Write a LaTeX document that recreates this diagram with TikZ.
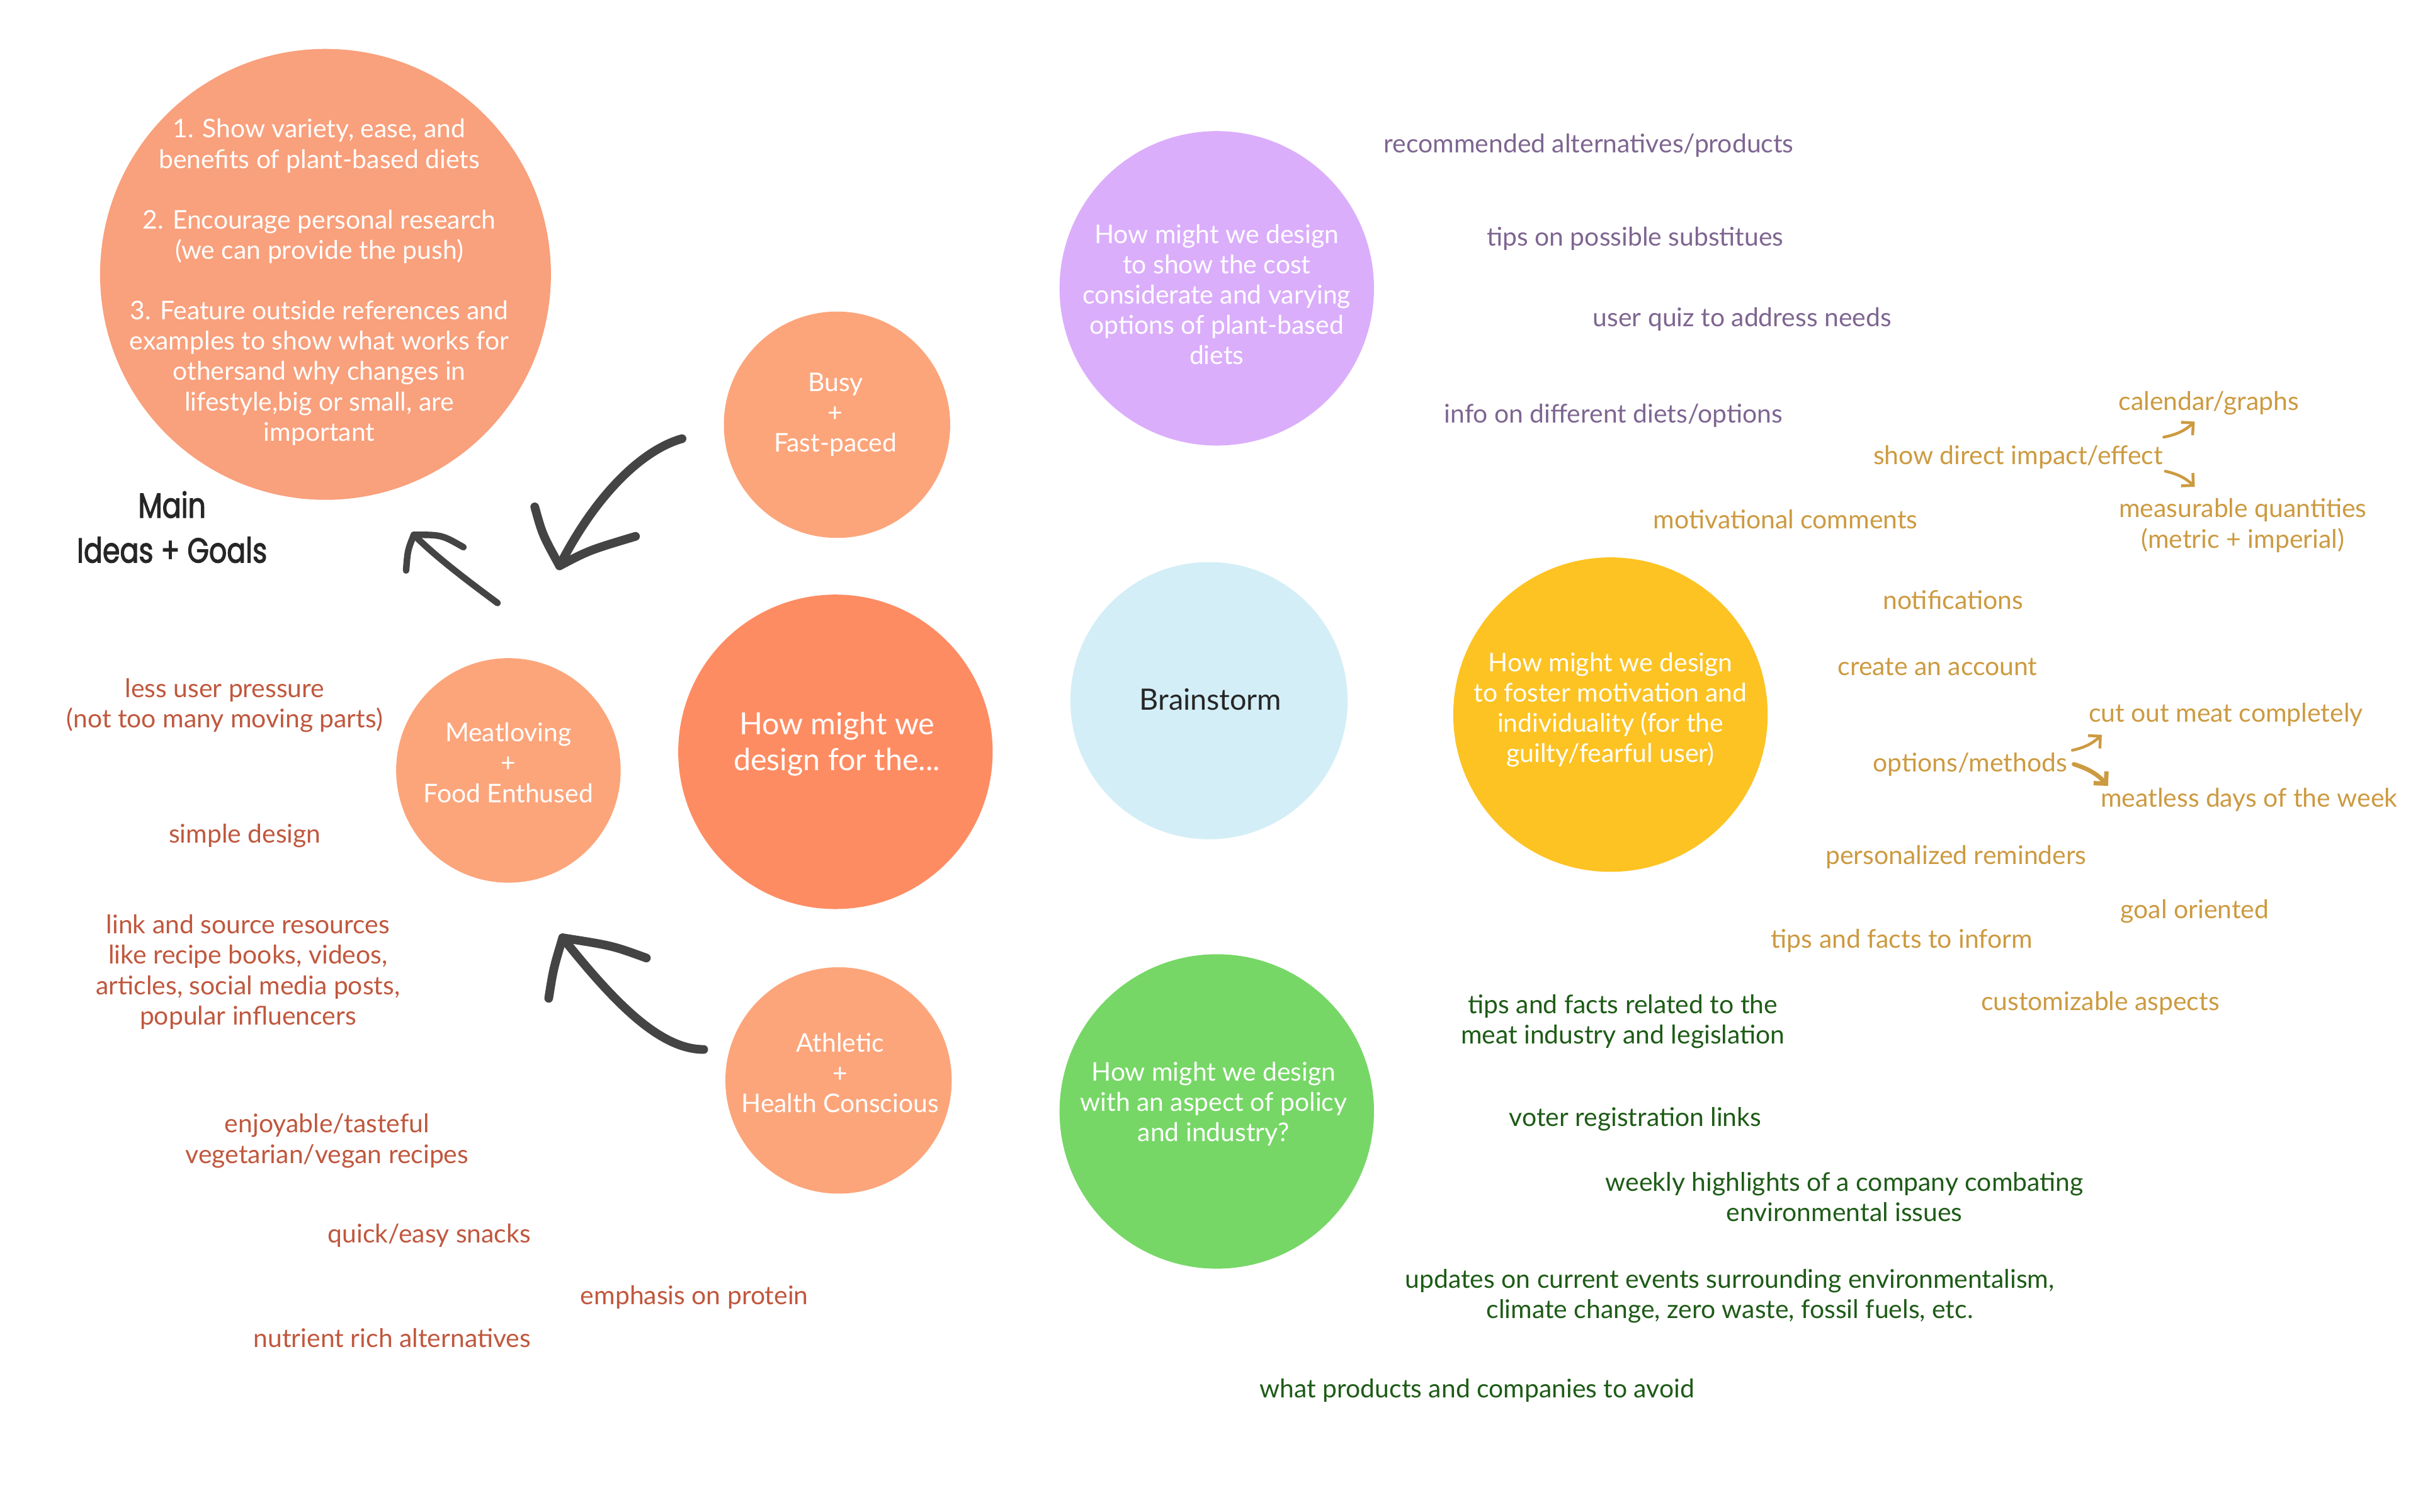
\documentclass[tikz,border=0pt]{standalone}
\usepackage{fontspec}
\setmainfont{Lato}
\newfontfamily\handfont[FakeStretch=0.8,FakeBold=2]{Poppins}
\usetikzlibrary{arrows.meta}
\definecolor{goalsfill}{HTML}{F9A07C}
\definecolor{personfill}{HTML}{FCA57B}
\definecolor{hmwfill}{HTML}{FE8C63}
\definecolor{costfill}{HTML}{DBAEFB}
\definecolor{stormfill}{HTML}{D3EEF6}
\definecolor{fosterfill}{HTML}{FDC323}
\definecolor{policyfill}{HTML}{76D766}
\definecolor{forred}{HTML}{C0573D}
\definecolor{costpurple}{HTML}{7E6591}
\definecolor{fostergold}{HTML}{CC9A40}
\definecolor{policygreen}{HTML}{1D5B16}
\definecolor{scribblegray}{HTML}{444444}
\begin{document}
\begin{tikzpicture}[x=0.025cm, y=-0.025cm,
  bubble/.style={circle, inner sep=0pt},
  idea/.style={align=center, inner sep=0pt, font=\fontsize{11.8}{13.9}\selectfont},
  inbubble/.style={idea, text=white},
  scribble/.style={scribblegray, line width=4pt, line cap=round, line join=round},
  nudge/.style={fostergold, line width=1.3pt, line cap=round, -{Straight Barb[length=4pt,width=8pt]}}]
  \useasboundingbox (0,0) rectangle (1560,975);

  \node[bubble, fill=goalsfill, minimum size=7.27cm] (goals) at (210,177) {};
  \node[inbubble] (goalstxt) at (206,182) {1. Show variety, ease, and\\benefits of plant-based diets\\[13.9pt]2. Encourage personal research\\(we can provide the push)\\[13.9pt]3. Feature outside references and\\examples to show what works for\\othersand why changes in\\lifestyle,big or small, are\\important};
  \node[align=center, inner sep=0pt, font=\handfont\fontsize{16}{20.6}\selectfont, text=black!85] (mainlbl) at (111,340) {Main\\Ideas + Goals};

  \node[bubble, fill=personfill, minimum size=3.65cm] (busy) at (540,274) {};
  \node[inbubble] (busytxt) at (539,267.5) {Busy\\+\\Fast-paced};
  \node[bubble, fill=personfill, minimum size=3.62cm] (meat) at (328,497) {};
  \node[inbubble] (meattxt) at (328,492) {Meatloving\\+\\Food Enthused};
  \node[bubble, fill=hmwfill, minimum size=5.07cm] (hmw) at (539,485) {};
  \node[inbubble, font=\fontsize{14}{16.3}\selectfont] (hmwtxt) at (540,480) {How might we\\design for the...};
  \node[bubble, fill=personfill, minimum size=3.65cm] (athl) at (541,697) {};
  \node[inbubble] (athltxt) at (542,692) {Athletic\\+\\Health Conscious};

  \node[bubble, fill=costfill, minimum size=5.07cm] (cost) at (785,186) {};
  \node[inbubble] (costtxt) at (785,190) {How might we design\\to show the cost\\considerate and varying\\options of plant-based\\diets};
  \node[bubble, fill=stormfill, minimum size=4.47cm] (storm) at (780,452) {};
  \node[idea, font=\fontsize{13.5}{16}\selectfont, text=black!85] (stormtxt) at (781,451) {Brainstorm};
  \node[bubble, fill=fosterfill, minimum size=5.07cm] (foster) at (1039,461) {};
  \node[inbubble] (fostertxt) at (1039,458) {How might we design\\to foster motivation and\\individuality (for the\\guilty/fearful user)};
  \node[bubble, fill=policyfill, minimum size=5.07cm] (policy) at (785,717) {};
  \node[inbubble] (policytxt) at (783,712) {How might we design\\with an aspect of policy\\and industry?};

  \node[idea, text=forred] (lesspress) at (145,455) {less user pressure\\(not too many moving parts)};
  \node[idea, text=forred] (simple) at (158,539) {simple design};
  \node[idea, text=forred] (linksrc) at (160,627) {link and source resources\\like recipe books, videos,\\articles, social media posts,\\popular influencers};
  \node[idea, text=forred] (enjoy) at (211,736) {enjoyable/tasteful\\vegetarian/vegan recipes};
  \node[idea, text=forred] (snacks) at (277,797) {quick/easy snacks};
  \node[idea, text=forred] (protein) at (448,837) {emphasis on protein};
  \node[idea, text=forred] (nutrient) at (253,863) {nutrient rich alternatives};

  \node[idea, text=costpurple] (recalt) at (1025,94) {recommended alternatives/products};
  \node[idea, text=costpurple] (subst) at (1055,154) {tips on possible substitues};
  \node[idea, text=costpurple] (quiz) at (1124,206) {user quiz to address needs};
  \node[idea, text=costpurple] (dietinfo) at (1041,268) {info on different diets/options};

  \node[idea, text=fostergold] (calendar) at (1425,260) {calendar/graphs};
  \node[idea, text=fostergold] (impact) at (1302,295) {show direct impact/effect};
  \node[idea, text=fostergold] (measure) at (1447,339) {measurable quantities\\(metric + imperial)};
  \node[idea, text=fostergold] (motiv) at (1152,335) {motivational comments};
  \node[idea, text=fostergold] (notif) at (1260,387) {notifications};
  \node[idea, text=fostergold] (account) at (1250,430) {create an account};
  \node[idea, text=fostergold] (cutout) at (1436,461) {cut out meat completely};
  \node[idea, text=fostergold] (options) at (1271,493) {options/methods};
  \node[idea, text=fostergold] (meatless) at (1451,516) {meatless days of the week};
  \node[idea, text=fostergold] (remind) at (1262,553) {personalized reminders};
  \node[idea, text=fostergold] (goal) at (1416,588) {goal oriented};
  \node[idea, text=fostergold] (inform) at (1227,607) {tips and facts to inform};
  \node[idea, text=fostergold] (custom) at (1355,647) {customizable aspects};

  \node[idea, text=policygreen] (legis) at (1047,659) {tips and facts related to the\\meat industry and legislation};
  \node[idea, text=policygreen] (voter) at (1055,722) {voter registration links};
  \node[idea, text=policygreen] (weekly) at (1190,772) {weekly highlights of a company combating\\environmental issues};
  \node[idea, text=policygreen] (updates) at (1116,836) {updates on current events surrounding environmentalism,\\climate change, zero waste, fossil fuels, etc.};
  \node[idea, text=policygreen] (avoid) at (953,897) {what products and companies to avoid};

  \coordinate (tipA) at (361,365);
  \coordinate (tipB) at (267,345);
  \coordinate (tipC) at (363,605);
  \draw[scribble] ([shift={(-100,9)}]busy.center) .. controls (415,290) and (385,318) .. (tipA);
  \draw[scribble] (345,327) .. controls (350,345) .. (tipA) .. controls (380,355) .. (410,346);
  \draw[scribble, line width=3pt] ([shift={(-7,-108)}]meat.center) .. controls (298,372) and (280,358) .. (tipB);
  \draw[scribble, line width=3pt] (262,368) .. controls (263,355) .. (tipB) .. controls (285,345) .. (299,353);
  \draw[scribble] ([shift={(-87,-20)}]athl.center) .. controls (425,677) and (395,645) .. (tipC);
  \draw[scribble] (354,644) .. controls (357,625) .. (tipC) .. controls (395,610) .. (417,618);

  \draw[nudge] ([shift={(94,-13)}]impact.center) to[bend right=15] ([shift={(-9,12)}]calendar.center);
  \draw[nudge] ([shift={(95,9)}]impact.center) to[bend left=15] ([shift={(-31,-25)}]measure.center);
  \draw[nudge] ([shift={(66,-9)}]options.center) to[bend right=15] ([shift={(-80,13)}]cutout.center);
  \draw[nudge, line width=2pt] ([shift={(67,0)}]options.center) to[bend left=15] ([shift={(-91,-9)}]meatless.center);
\end{tikzpicture}
\end{document}
